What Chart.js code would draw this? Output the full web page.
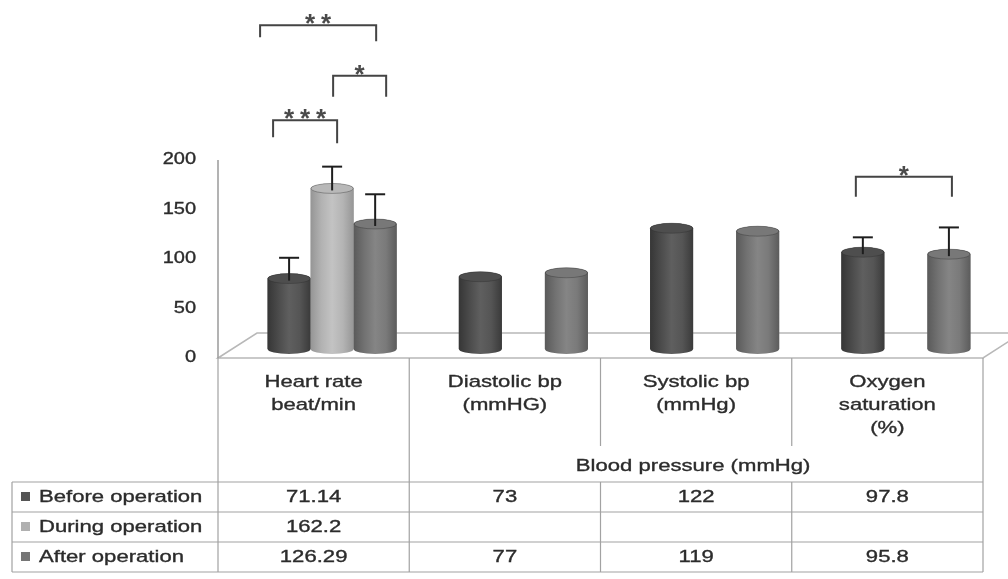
<!DOCTYPE html>
<html>
<head>
<meta charset="utf-8">
<script src="https://cdn.jsdelivr.net/npm/chart.js@4.4.1/dist/chart.umd.min.js"></script>
<style>
    html, body { margin: 0; padding: 0; background: #fff; }
    #wrap { width: 1008px; height: 579px; position: relative; }
</style>
</head>
<body>
<div id="wrap"><canvas id="vitalsChart"></canvas></div>
<script>
const categories = [
    ["Heart rate", "beat/min"],
    ["Diastolic bp", "(mmHG)"],
    ["Systolic bp", "(mmHg)"],
    ["Oxygen", "saturation", "(%)"]
];
const groupLabel = "Blood pressure (mmHg)";
const seriesNames = ["Before operation", "During operation", "After operation"];
const beforeValues = [71.14, 73, 122, 97.8];
const duringValues = [162.2, null, null, null];
const afterValues = [126.29, 77, 119, 95.8];
const beforeErrors = [21, null, null, 15];
const duringErrors = [22, null, null, null];
const afterErrors = [30, null, null, 27];
const yTicks = [0, 50, 100, 150, 200];

// significance brackets: category, first series, second series, level (axis units), label
const brackets = [
    { cat: 0, from: 0, to: 2, level: 327, label: "**" },
    { cat: 0, from: 1, to: 2, level: 276, label: "*" },
    { cat: 0, from: 0, to: 1, level: 231, label: "***" },
    { cat: 3, from: 0, to: 2, level: 174, label: "*" }
];
// hand-drawn look of the brackets (pixels)
const bracketShape = [
    { dl: -29, dr: 1, hl: 12, hr: 16 },
    { dl: 1, dr: 11, hl: 21, hr: 21 },
    { dl: -16, dr: 5, hl: 17, hr: 23 },
    { dl: -7, dr: 3, hl: 20, hr: 20 }
];

const seriesColors = ["#555555", "#b0b0b0", "#767676"];
const cylinderStops = [
    ["#363636", "#4b4b4b", "#5f5f5f", "#555555", "#3a3a3a"],
    ["#959595", "#b2b2b2", "#c3c3c3", "#b4b4b4", "#969696"],
    ["#5a5a5a", "#727272", "#858585", "#7a7a7a", "#5c5c5c"]
];
const topColors = ["#4e4e4e", "#b8b8b8", "#787878"];

// offsets between the bar plane and the front edge of the floor
const DX = 18.5, DY = 9, DEPTH_X = 39, DEPTH_Y = 25;
const TEXT = "#2c2c2c";
const LINE = "#a2a2a2";

function sText(ctx, txt, x, y, size, align, sx) {
    ctx.save();
    ctx.font = size + "px 'Liberation Sans', Arial, sans-serif";
    ctx.fillStyle = TEXT;
    ctx.strokeStyle = TEXT;
    ctx.lineWidth = 0.35;
    ctx.translate(x, y);
    ctx.scale(sx, 1);
    ctx.textAlign = align;
    ctx.textBaseline = "middle";
    ctx.fillText(txt, 0, 0);
    ctx.strokeText(txt, 0, 0);
    ctx.restore();
}

function line(ctx, x1, y1, x2, y2) {
    ctx.beginPath();
    ctx.moveTo(x1, y1);
    ctx.lineTo(x2, y2);
    ctx.stroke();
}

function barProps(chart, ds, i) {
    return chart.getDatasetMeta(ds).data[i].getProps(["x", "y", "base", "width"], true);
}

const floorPlugin = {
    id: "floor",
    beforeDatasetsDraw(chart) {
        const ctx = chart.ctx, area = chart.chartArea, y = chart.scales.y;
        const fy = y.getPixelForValue(0) + DY, by = fy - DEPTH_Y;
        const fl = area.left - DX, fr = area.right - DX;
        ctx.save();
        ctx.fillStyle = "#ffffff";
        ctx.strokeStyle = "#b8b8b8";
        ctx.lineWidth = 1.5;
        ctx.beginPath();
        ctx.moveTo(fl, fy);
        ctx.lineTo(fl + DEPTH_X, by);
        ctx.lineTo(fr + DEPTH_X, by);
        ctx.lineTo(fr, fy);
        ctx.closePath();
        ctx.fill();
        ctx.stroke();
        ctx.strokeStyle = "#9a9a9a";
        line(ctx, fl, y.getPixelForValue(yTicks[yTicks.length - 1]) + DY, fl, fy);
        yTicks.forEach(v => sText(ctx, String(v), 196, y.getPixelForValue(v) + DY, 16, "right", 1.25));
        ctx.restore();
    }
};

const cylinderPlugin = {
    id: "cylinders",
    afterDatasetsDraw(chart) {
        const ctx = chart.ctx, y = chart.scales.y;
        const errors = [beforeErrors, duringErrors, afterErrors];
        ctx.save();
        chart.data.datasets.forEach((ds, d) => {
            ds.data.forEach((v, i) => {
                if (v === null) return;
                const b = barProps(chart, d, i);
                const half = b.width / 2, l = b.x - half, r = b.x + half, ry = 5;
                const g = ctx.createLinearGradient(l, 0, r, 0);
                cylinderStops[d].forEach((c, k) => g.addColorStop(k / (cylinderStops[d].length - 1), c));
                ctx.fillStyle = g;
                ctx.beginPath();
                ctx.moveTo(l, b.y);
                ctx.lineTo(l, b.base);
                ctx.ellipse(b.x, b.base, half, ry, 0, Math.PI, 0, true);
                ctx.lineTo(r, b.y);
                ctx.ellipse(b.x, b.y, half, ry, 0, 0, -Math.PI, true);
                ctx.closePath();
                ctx.fill();
                ctx.fillStyle = topColors[d];
                ctx.strokeStyle = "rgba(40,40,40,0.35)";
                ctx.lineWidth = 1;
                ctx.beginPath();
                ctx.ellipse(b.x, b.y, half - 0.5, ry, 0, 0, Math.PI * 2);
                ctx.fill();
                ctx.stroke();
            });
        });
        // error bars
        ctx.strokeStyle = "#1e1e1e";
        ctx.lineWidth = 2;
        chart.data.datasets.forEach((ds, d) => {
            ds.data.forEach((v, i) => {
                const e = errors[d][i];
                if (v === null || e === null) return;
                const b = barProps(chart, d, i);
                const yt = y.getPixelForValue(v + e);
                line(ctx, b.x, b.y + 2, b.x, yt);
                line(ctx, b.x - 10, yt, b.x + 10, yt);
            });
        });
        // significance brackets
        ctx.strokeStyle = "#444444";
        brackets.forEach((br, k) => {
            const s = bracketShape[k];
            const x1 = barProps(chart, br.from, br.cat).x + s.dl;
            const x2 = barProps(chart, br.to, br.cat).x + s.dr;
            const yl = y.getPixelForValue(br.level);
            ctx.beginPath();
            ctx.moveTo(x1, yl + s.hl);
            ctx.lineTo(x1, yl);
            ctx.lineTo(x2, yl);
            ctx.lineTo(x2, yl + s.hr);
            ctx.stroke();
            const n = br.label.length, mid = (x1 + x2) / 2;
            for (let c = 0; c < n; c++) {
                const cx = mid + (c - (n - 1) / 2) * 16;
                ctx.save();
                ctx.font = "bold 26px 'Liberation Sans', Arial, sans-serif";
                ctx.fillStyle = "#4a4a4a";
                ctx.textAlign = "center";
                ctx.textBaseline = "alphabetic";
                ctx.fillText("*", cx, yl + 7);
                ctx.restore();
            }
        });
        ctx.restore();
    }
};

const tablePlugin = {
    id: "dataTable",
    afterDraw(chart) {
        const ctx = chart.ctx, area = chart.chartArea, y = chart.scales.y;
        const fy = y.getPixelForValue(0) + DY;
        const colW = area.width / categories.length;
        const xs = [];
        for (let k = 0; k <= categories.length; k++) xs.push(area.left - DX + k * colW);
        const tableLeft = 12, rowTop = 482, rowH = 30, groupY = 446;
        const rows = [beforeValues, duringValues, afterValues];
        const tableBottom = rowTop + rowH * rows.length;

        ctx.save();
        ctx.strokeStyle = LINE;
        ctx.lineWidth = 1.2;
        line(ctx, xs[0], fy, xs[0], tableBottom);
        line(ctx, xs[1], fy, xs[1], tableBottom);
        for (let k = 2; k < categories.length; k++) {
            line(ctx, xs[k], fy, xs[k], groupY);
            line(ctx, xs[k], rowTop, xs[k], tableBottom);
        }
        line(ctx, xs[xs.length - 1], fy, xs[xs.length - 1], tableBottom);
        line(ctx, tableLeft, rowTop, tableLeft, tableBottom);
        for (let r = 0; r <= rows.length; r++) {
            line(ctx, tableLeft, rowTop + r * rowH, xs[xs.length - 1], rowTop + r * rowH);
        }

        categories.forEach((lines, k) => {
            const cx = xs[k] + colW / 2;
            lines.forEach((t, j) => sText(ctx, t, cx, 382 + j * 23, 17, "center", 1.3));
        });
        sText(ctx, groupLabel, xs[2] + colW / 2 - 3, 466, 17, "center", 1.3);

        rows.forEach((vals, r) => {
            const cy = rowTop + r * rowH + rowH / 2;
            ctx.fillStyle = seriesColors[r];
            ctx.fillRect(21, cy - 5, 9, 9);
            sText(ctx, seriesNames[r], 39, cy, 17, "left", 1.3);
            vals.forEach((v, k) => {
                if (v === null) return;
                sText(ctx, String(v), xs[k] + colW / 2, cy, 17, "center", 1.3);
            });
        });
        ctx.restore();
    }
};

function renderChart() {
    const canvas = document.getElementById("vitalsChart");
    const ctx = canvas.getContext("2d");

    new Chart(ctx, {
        type: "bar",
        data: {
            labels: categories.map(c => c.join(" ")),
            datasets: [
                { label: seriesNames[0], data: beforeValues, backgroundColor: seriesColors[0] },
                { label: seriesNames[1], data: duringValues, backgroundColor: seriesColors[1] },
                { label: seriesNames[2], data: afterValues, backgroundColor: seriesColors[2] }
            ]
        },
        options: {
            responsive: true,
            maintainAspectRatio: false,
            animation: false,
            layout: {
                padding: { left: 236.5, right: 6.5, top: 151, bottom: 230 }
            },
            datasets: {
                bar: { categoryPercentage: 0.675, barPercentage: 1.0, borderWidth: 0 }
            },
            plugins: {
                legend: { display: false },
                tooltip: { enabled: false }
            },
            scales: {
                x: { display: false },
                y: { display: false, min: 0, max: 200, ticks: { stepSize: 50 } }
            }
        },
        plugins: [floorPlugin, cylinderPlugin, tablePlugin]
    });
}

document.addEventListener("DOMContentLoaded", renderChart);
</script>
</body>
</html>
